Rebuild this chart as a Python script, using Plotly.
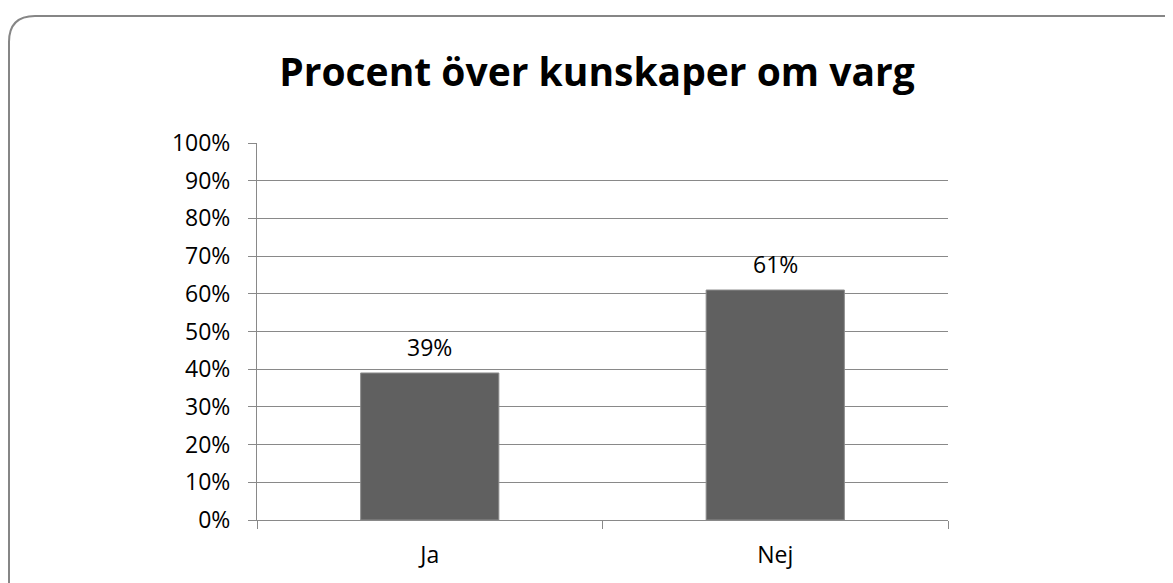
import plotly.graph_objects as go

categories = ["Ja", "Nej"]
values = [0.39, 0.61]
labels = ["39%", "61%"]
title_text = "Procent över kunskaper om varg"
ytick_vals = [0, 0.1, 0.2, 0.3, 0.4, 0.5, 0.6, 0.7, 0.8, 0.9, 1.0]
ytick_text = ["0%", "10%", "20%", "30%", "40%", "50%", "60%", "70%", "80%", "90%", "100%"]

# page has an 8px body margin; figure coordinates are page - 8
W, H = 1165, 575
L, T, pw, ph = 249, 135, 691, 377
R, B = W - L - pw, H - T - ph

def px(x):
    return (x - L) / pw

def py(y):
    return (T + ph - y) / ph

GRID = "#898989"
FONT = "Open Sans, sans-serif"

fig = go.Figure()
fig.add_trace(go.Bar(
    x=categories, y=values,
    marker=dict(color="#606060", line=dict(color="#8c8c8c", width=1)),
    width=0.4, hoverinfo="skip",
))
for c, v, t in zip(categories, values, labels):
    fig.add_annotation(x=c, y=v, text=t, showarrow=False, yanchor="bottom",
                       yshift=8, font=dict(size=23, color="#000000", family=FONT))

# rounded border
x0, y0, x1, y1, r = 1, 8, 1200, 620, 26
path = (f"M {px(x0)},{py(y0 + r)} "
        f"Q {px(x0)},{py(y0)} {px(x0 + r)},{py(y0)} "
        f"L {px(x1)},{py(y0)} L {px(x1)},{py(y1)} L {px(x0)},{py(y1)} Z")
fig.add_shape(type="path", path=path, xref="paper", yref="paper",
              line=dict(color="#868686", width=2), layer="below")

fig.update_layout(
    width=W, height=H,
    margin=dict(l=L, r=R, t=T, b=B),
    paper_bgcolor="white", plot_bgcolor="white",
    font=dict(family=FONT, size=23, color="#000000"),
    title=dict(text=f"<b>{title_text}</b>", x=(597 - 8) / W, xanchor="center",
               xref="container", yref="container", y=1 - 64 / H, yanchor="middle",
               font=dict(size=39, color="#000000", family=FONT)),
    showlegend=False,
)
fig.update_yaxes(range=[0, 1.0], tickvals=ytick_vals, ticktext=ytick_text,
                 showgrid=True, gridcolor=GRID, gridwidth=1,
                 showline=True, linecolor=GRID, linewidth=1,
                 ticks="outside", ticklen=8, tickcolor=GRID,
                 ticklabelstandoff=13, zeroline=False, fixedrange=True)
fig.update_xaxes(showline=True, linecolor=GRID, linewidth=1,
                 ticks="outside", ticklen=8, tickcolor=GRID,
                 tickson="boundaries", ticklabelstandoff=14, showgrid=False,
                 fixedrange=True)

fig.write_html("out.html")
